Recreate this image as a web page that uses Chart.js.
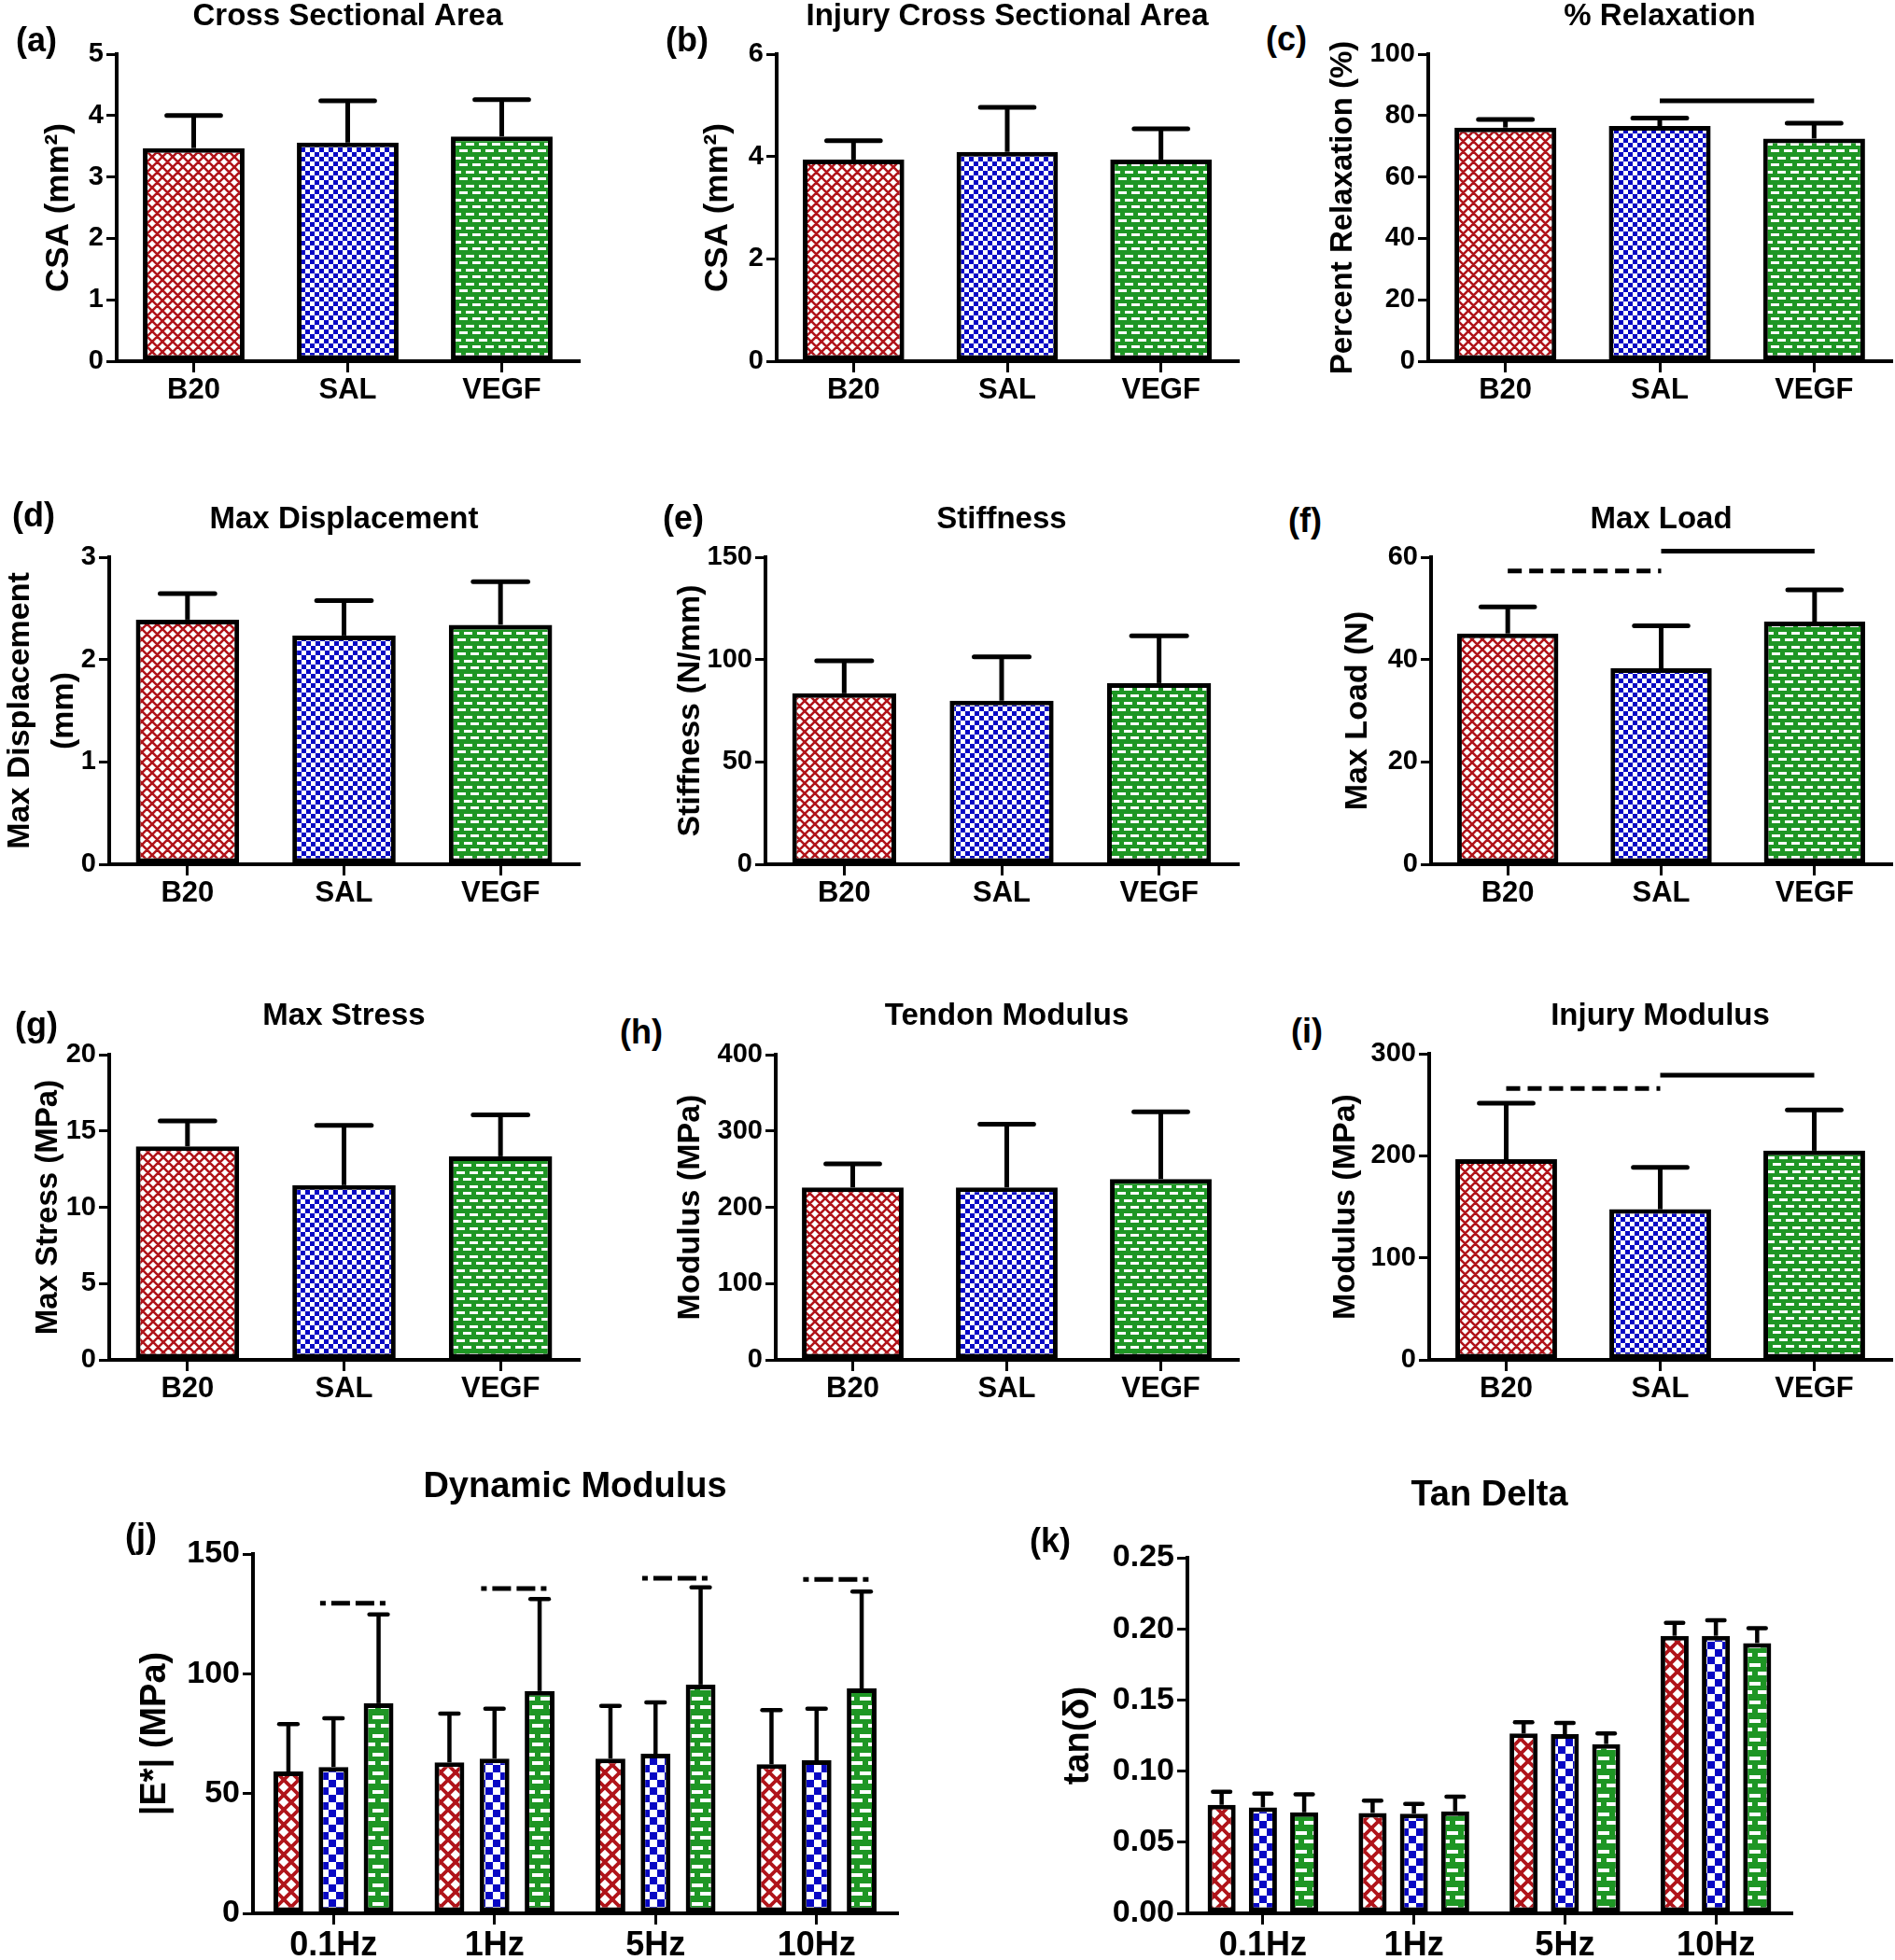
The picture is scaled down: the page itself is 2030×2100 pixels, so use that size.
<!DOCTYPE html>
<html>
<head>
<meta charset="utf-8">
<script src="https://cdn.jsdelivr.net/npm/chart.js@4.4.1/dist/chart.umd.min.js"></script>
<style>
html, body { margin: 0; padding: 0; background: #fff; overflow: hidden; }
#fig { position: relative; width: 2030px; height: 2100px; overflow: hidden; background: #fff; }
#fig canvas { position: absolute; }
.lbl { position: absolute; font: bold 36px "Liberation Sans", Arial, sans-serif; line-height: 1; color: #000; white-space: nowrap; }
</style>
</head>
<body>
<div id="fig"></div>
<script>
"use strict";

// ---- data ----
var groups = [ "B20", "SAL", "VEGF" ];
var freqs  = [ "0.1Hz", "1Hz", "5Hz", "10Hz" ];

var csaMean = [ 3.47, 3.56, 3.66 ];
var csaSd   = [ 0.53, 0.68, 0.60 ];
var csaTicks = [ 0, 1, 2, 3, 4, 5 ];

var injCsaMean = [ 3.94, 4.09, 3.94 ];
var injCsaSd   = [ 0.37, 0.87, 0.60 ];
var injCsaTicks = [ 0, 2, 4, 6 ];

var relaxMean = [ 76.1, 76.6, 72.5 ];
var relaxSd   = [ 2.6, 2.6, 5.0 ];
var relaxTicks = [ 0, 20, 40, 60, 80, 100 ];
var relaxSolid = [ [ 1, 2, 84.8 ] ];

var dispMean = [ 2.39, 2.235, 2.34 ];
var dispSd   = [ 0.255, 0.34, 0.42 ];
var dispTicks = [ 0, 1, 2, 3 ];

var stiffMean = [ 83.5, 79.9, 88.5 ];
var stiffSd   = [ 15.9, 21.4, 23.1 ];
var stiffTicks = [ 0, 50, 100, 150 ];

var loadMean = [ 45.1, 38.3, 47.4 ];
var loadSd   = [ 5.2, 8.3, 6.2 ];
var loadTicks = [ 0, 20, 40, 60 ];
var loadDashed = [ [ 0, 1, 57.3 ] ];
var loadSolid  = [ [ 1, 2, 61.2 ] ];

var stressMean = [ 13.99, 11.45, 13.34 ];
var stressSd   = [ 1.67, 3.91, 2.71 ];
var stressTicks = [ 0, 5, 10, 15, 20 ];

var tendonMean = [ 226, 226, 237 ];
var tendonSd   = [ 31, 83, 88 ];
var tendonTicks = [ 0, 100, 200, 300, 400 ];

var injModMean = [ 196.6, 147.6, 205 ];
var injModSd   = [ 55, 41, 40 ];
var injModTicks = [ 0, 100, 200, 300 ];
var injModDashed = [ [ 0, 1, 266 ] ];
var injModSolid  = [ [ 1, 2, 279 ] ];

var dynB20    = [ 59.2, 63.0, 64.6, 62.2 ];
var dynB20Sd  = [ 19.8, 20.4, 22.0, 22.6 ];
var dynSal    = [ 61.1, 64.6, 66.6, 63.9 ];
var dynSalSd  = [ 20.3, 20.8, 21.5, 21.5 ];
var dynVegf   = [ 87.7, 92.8, 95.5, 93.9 ];
var dynVegfSd = [ 37.1, 38.4, 40.6, 40.4 ];
var dynSigY   = [ 129.4, 135.6, 139.9, 139.4 ];
var dynTicks  = [ 0, 50, 100, 150 ];

var tanB20    = [ 0.0763, 0.0706, 0.1264, 0.1951 ];
var tanB20Sd  = [ 0.0091, 0.0086, 0.0079, 0.0091 ];
var tanSal    = [ 0.0745, 0.0701, 0.1260, 0.1951 ];
var tanSalSd  = [ 0.0097, 0.0069, 0.0079, 0.0109 ];
var tanVegf   = [ 0.0710, 0.0717, 0.1190, 0.1900 ];
var tanVegfSd = [ 0.0126, 0.0103, 0.0074, 0.0104 ];
var tanTicks  = [ 0, 0.05, 0.10, 0.15, 0.20, 0.25 ];

// ---- styling ----
var FONT = '"Liberation Sans", Arial, Helvetica, sans-serif';
Chart.defaults.font.family = FONT;
Chart.defaults.font.weight = "bold";
Chart.defaults.color = "#000";

function hatch(k) {
    var s = Math.round(11 * k);
    var c = document.createElement("canvas");
    c.width = c.height = s;
    var g = c.getContext("2d");
    g.fillStyle = "#fff";
    g.fillRect(0, 0, s, s);
    g.strokeStyle = "#b0141a";
    g.lineWidth = 2.6 * k;
    g.beginPath();
    [ -s, 0, s ].forEach(function (o) {
        g.moveTo(o - s, -s); g.lineTo(o + 2 * s, 2 * s);
        g.moveTo(2 * s + o, -s); g.lineTo(o - s, 2 * s);
    });
    g.stroke();
    return g.createPattern(c, "repeat");
}

function checker(k) {
    var s = Math.round(5 * k);
    var c = document.createElement("canvas");
    c.width = c.height = 2 * s;
    var g = c.getContext("2d");
    g.fillStyle = "#fff";
    g.fillRect(0, 0, 2 * s, 2 * s);
    g.fillStyle = "#0808c4";
    g.fillRect(0, 0, s, s);
    g.fillRect(s, s, s, s);
    return g.createPattern(c, "repeat");
}

function brick(k) {
    var w = Math.round(14 * k), h = Math.round(15 * k);
    var c = document.createElement("canvas");
    c.width = w; c.height = h;
    var g = c.getContext("2d");
    g.fillStyle = "#1e9624";
    g.fillRect(0, 0, w, h);
    g.fillStyle = "#fff";
    var bw = Math.round(9 * k), bh = Math.max(2, Math.round(3 * k));
    var r1 = Math.round(2 * k), r2 = Math.round(9.5 * k), half = Math.round(w / 2);
    g.fillRect(Math.round(2 * k), r1, bw, bh);
    g.fillRect(Math.round(2 * k) + half, r2, bw, bh);
    g.fillRect(Math.round(2 * k) + half - w, r2, bw, bh);
    return g.createPattern(c, "repeat");
}

var topFills = [ hatch(1), checker(1), brick(1) ];
var lowFills = [ hatch(1.45), checker(1.6), brick(1.3) ];

// ---- plugins ----
var errorBars = {
    id: "errorBars",
    afterDatasetsDraw: function (chart, args, opts) {
        var ctx = chart.ctx, y = chart.scales.y;
        chart.data.datasets.forEach(function (ds, di) {
            chart.getDatasetMeta(di).data.forEach(function (bar, i) {
                var top = y.getPixelForValue(ds.data[ i ] + ds.sd[ i ]);
                var half = bar.width * opts.cap / 2;
                ctx.save();
                ctx.strokeStyle = "#000";
                ctx.lineWidth = opts.width;
                ctx.beginPath();
                ctx.moveTo(bar.x, bar.y);
                ctx.lineTo(bar.x, top);
                ctx.stroke();
                ctx.lineCap = "round";
                ctx.beginPath();
                ctx.moveTo(bar.x - half, top);
                ctx.lineTo(bar.x + half, top);
                ctx.stroke();
                ctx.restore();
            });
        });
    }
};

var sigLines = {
    id: "sigLines",
    afterDatasetsDraw: function (chart, args, opts) {
        var ctx = chart.ctx, y = chart.scales.y;
        (opts.lines || []).forEach(function (l) {
            var a = chart.getDatasetMeta(l.from[ 0 ]).data[ l.from[ 1 ] ];
            var b = chart.getDatasetMeta(l.to[ 0 ]).data[ l.to[ 1 ] ];
            var x1 = a.x + (l.dx1 || 0) * a.width, x2 = b.x + (l.dx2 || 0) * b.width;
            var yy = y.getPixelForValue(l.y);
            ctx.save();
            ctx.strokeStyle = "#000";
            ctx.lineWidth = l.width || 5;
            ctx.setLineDash(l.dash || []);
            ctx.beginPath();
            ctx.moveTo(x1, yy);
            ctx.lineTo(x2, yy);
            ctx.stroke();
            ctx.restore();
        });
    }
};

var panelTitle = {
    id: "panelTitle",
    afterDraw: function (chart, args, opts) {
        var ctx = chart.ctx, a = chart.chartArea;
        ctx.save();
        ctx.font = "bold " + opts.size + "px " + FONT;
        ctx.fillStyle = "#000";
        ctx.textAlign = "center";
        ctx.textBaseline = "middle";
        ctx.fillText(opts.text, (a.left + a.right) / 2, opts.y);
        ctx.restore();
    }
};

function pairLines(list, dash) {
    return list.map(function (p) {
        return { from: [ 0, p[ 0 ] ], to: [ 0, p[ 1 ] ], y: p[ 2 ], dash: dash };
    });
}

// ---- panel builder ----
var fig = document.getElementById("fig");

function panel(p) {
    var big = !!p.grouped;
    var yTitleSize = p.yTitleSize || (big ? 38 : 34);
    var yTitleLH = p.yTitleLH || 1.2;
    var left = Math.round(p.yTitleX - yTitleSize * yTitleLH / 2);
    var padTop = 110, xH = big ? 62 : 56;
    var top = p.plot.t - padTop;
    var width = p.plot.r + 4 - left;
    var height = p.plot.b + xH - top;
    var yW = p.plot.l - left;

    var cv = document.createElement("canvas");
    cv.width = width; cv.height = height;
    cv.style.left = left + "px"; cv.style.top = top + "px";
    cv.style.width = width + "px"; cv.style.height = height + "px";
    fig.appendChild(cv);

    var lbl = document.createElement("div");
    lbl.className = "lbl";
    lbl.textContent = p.label;
    lbl.style.left = p.labelX + "px";
    lbl.style.top = (p.labelY - 18) + "px";
    fig.appendChild(lbl);

    var datasets;
    if (big) {
        datasets = p.series.map(function (s, i) {
            return {
                label: groups[ i ], data: s[ 0 ], sd: s[ 1 ],
                backgroundColor: lowFills[ i ], borderColor: "#000", borderWidth: 5,
                borderSkipped: false, barPercentage: p.barPct, categoryPercentage: p.catPct
            };
        });
    } else {
        datasets = [ {
            data: p.mean, sd: p.sd, backgroundColor: topFills, borderColor: "#000",
            borderWidth: 5, borderSkipped: false, barPercentage: 0.66, categoryPercentage: 1
        } ];
    }

    new Chart(cv, {
        type   : "bar",
        data   : { labels: p.labels, datasets: datasets },
        options: {
            responsive      : false,
            animation       : false,
            devicePixelRatio: 1,
            layout          : { padding: { top: padTop, right: 4, left: 0, bottom: 0 } },
            plugins         : {
                legend    : { display: false },
                tooltip   : { enabled: false },
                panelTitle: { text: p.title, y: p.titleY - top, size: big ? 38 : 33 },
                errorBars : { cap: big ? 0.62 : 0.53, width: big ? 4.5 : 5 },
                sigLines  : { lines: p.sig || [] }
            },
            scales          : {
                x: {
                    offset : true,
                    grid   : { offset: false, drawOnChartArea: false, drawTicks: true, tickLength: 12, lineWidth: 3, color: "#000" },
                    border : { display: true, color: "#000", width: 4 },
                    ticks  : { font: { size: big ? 36 : 31, weight: "bold" }, color: "#000", padding: 1, maxRotation: 0, autoSkip: false },
                    afterFit: function (s) { s.height = xH; }
                },
                y: {
                    min   : p.ticks[ 0 ],
                    max   : p.ticks[ p.ticks.length - 1 ],
                    afterBuildTicks: function (s) {
                        s.ticks = p.ticks.map(function (v) { return { value: v }; });
                    },
                    grid  : { drawOnChartArea: false, drawTicks: true, tickLength: 11, lineWidth: 3, color: "#000" },
                    border: { display: true, color: "#000", width: 4 },
                    ticks : {
                        font    : { size: big ? 34 : 29, weight: "bold" },
                        color   : "#000",
                        padding : 3,
                        callback: function (v) { return p.fmt ? p.fmt(v) : String(v); }
                    },
                    title : {
                        display: true, text: p.yTitle, color: "#000", padding: 0,
                        font   : { size: yTitleSize, weight: "bold", lineHeight: yTitleLH }
                    },
                    afterFit: function (s) { s.width = yW; }
                }
            }
        },
        plugins: [ errorBars, sigLines, panelTitle ]
    });
}

// ---- the eleven panels ----
panel({ label: "(a)", labelX: 17, labelY: 43, title: "Cross Sectional Area", titleY: 18,
    plot: { l: 125, r: 620, t: 58, b: 387 }, yTitle: "CSA (mm²)", yTitleX: 63, yTitleSize: 35,
    labels: groups, mean: csaMean, sd: csaSd, ticks: csaTicks });

panel({ label: "(b)", labelX: 713, labelY: 43, title: "Injury Cross Sectional Area", titleY: 18,
    plot: { l: 832, r: 1326, t: 58, b: 387 }, yTitle: "CSA (mm²)", yTitleX: 769, yTitleSize: 35,
    labels: groups, mean: injCsaMean, sd: injCsaSd, ticks: injCsaTicks });

panel({ label: "(c)", labelX: 1356, labelY: 42, title: "% Relaxation", titleY: 18,
    plot: { l: 1530, r: 2026, t: 58, b: 387 }, yTitle: "Percent Relaxation (%)", yTitleX: 1439, yTitleSize: 33,
    labels: groups, mean: relaxMean, sd: relaxSd, ticks: relaxTicks,
    sig: pairLines(relaxSolid, []) });

panel({ label: "(d)", labelX: 13, labelY: 552, title: "Max Displacement", titleY: 557,
    plot: { l: 117, r: 620, t: 597, b: 926 }, yTitle: [ "Max Displacement", "(mm)" ], yTitleX: 21,
    yTitleSize: 34, yTitleLH: 1.38,
    labels: groups, mean: dispMean, sd: dispSd, ticks: dispTicks });

panel({ label: "(e)", labelX: 710, labelY: 555, title: "Stiffness", titleY: 557,
    plot: { l: 820, r: 1326, t: 597, b: 926 }, yTitle: "Stiffness (N/mm)", yTitleX: 739,
    labels: groups, mean: stiffMean, sd: stiffSd, ticks: stiffTicks });

panel({ label: "(f)", labelX: 1380, labelY: 558, title: "Max Load", titleY: 557,
    plot: { l: 1533, r: 2026, t: 597, b: 926 }, yTitle: "Max Load (N)", yTitleX: 1454,
    labels: groups, mean: loadMean, sd: loadSd, ticks: loadTicks,
    sig: pairLines(loadDashed, [ 15, 8 ]).concat(pairLines(loadSolid, [])) });

panel({ label: "(g)", labelX: 16, labelY: 1098, title: "Max Stress", titleY: 1089,
    plot: { l: 117, r: 620, t: 1130, b: 1457 }, yTitle: "Max Stress (MPa)", yTitleX: 52, yTitleSize: 33,
    labels: groups, mean: stressMean, sd: stressSd, ticks: stressTicks });

panel({ label: "(h)", labelX: 664, labelY: 1106, title: "Tendon Modulus", titleY: 1089,
    plot: { l: 831, r: 1326, t: 1130, b: 1457 }, yTitle: "Modulus (MPa)", yTitleX: 739,
    labels: groups, mean: tendonMean, sd: tendonSd, ticks: tendonTicks });

panel({ label: "(i)", labelX: 1383, labelY: 1105, title: "Injury Modulus", titleY: 1089,
    plot: { l: 1531, r: 2026, t: 1129, b: 1457 }, yTitle: "Modulus (MPa)", yTitleX: 1441,
    labels: groups, mean: injModMean, sd: injModSd, ticks: injModTicks,
    sig: pairLines(injModDashed, [ 15, 8 ]).concat(pairLines(injModSolid, [])) });

panel({ label: "(j)", labelX: 134, labelY: 1646, title: "Dynamic Modulus", titleY: 1594, grouped: true,
    plot: { l: 271, r: 961, t: 1665, b: 2050 }, yTitle: "|E*| (MPa)", yTitleX: 167,
    labels: freqs, ticks: dynTicks, barPct: 0.66, catPct: 0.84,
    series: [ [ dynB20, dynB20Sd ], [ dynSal, dynSalSd ], [ dynVegf, dynVegfSd ] ],
    sig: dynSigY.map(function (v, i) {
        return { from: [ 1, i ], to: [ 2, i ], y: v, dx1: -0.45, dx2: 0.3, dash: [ 6, 6, 20, 6, 20, 6 ] };
    }) });

panel({ label: "(k)", labelX: 1103, labelY: 1651, title: "Tan Delta", titleY: 1603, grouped: true,
    plot: { l: 1272, r: 1919, t: 1669, b: 2050 }, yTitle: "tan(δ)", yTitleX: 1156,
    labels: freqs, ticks: tanTicks, barPct: 0.68, catPct: 0.82,
    fmt: function (v) { return v.toFixed(2); },
    series: [ [ tanB20, tanB20Sd ], [ tanSal, tanSalSd ], [ tanVegf, tanVegfSd ] ] });
</script>
</body>
</html>
